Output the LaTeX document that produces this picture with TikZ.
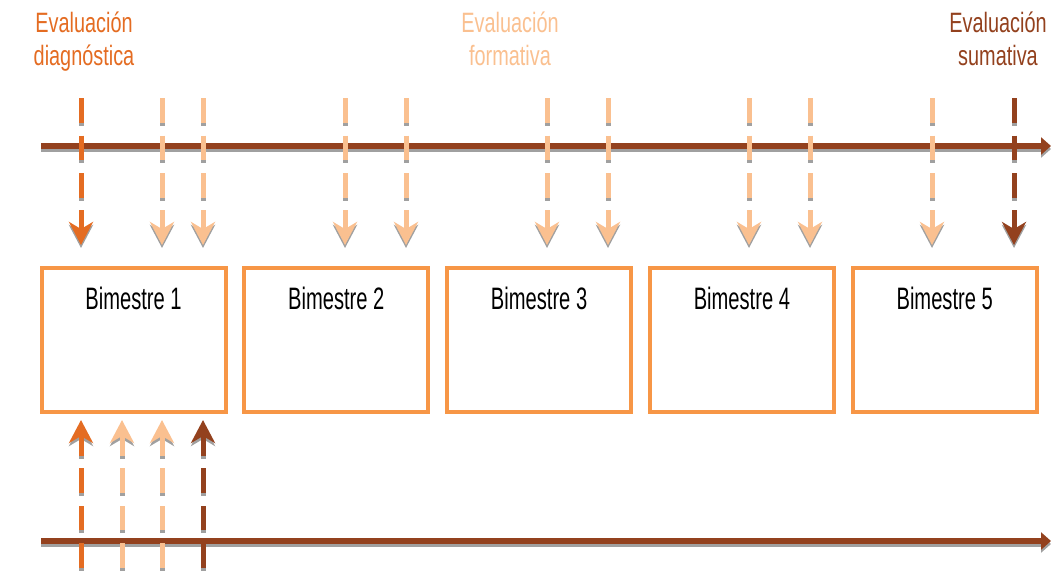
\documentclass[tikz,border=0pt]{standalone}
\usepackage{fontspec}
\usetikzlibrary{arrows.meta}
\newfontfamily\boxfont[FakeStretch=0.65]{Liberation Sans}
\newfontfamily\titlefont[FakeStretch=0.71]{Liberation Sans}
\definecolor{brownc}{HTML}{93411E}
\definecolor{darkor}{HTML}{E46C22}
\definecolor{lightor}{HTML}{FAC090}
\definecolor{boxor}{HTML}{F79646}
\definecolor{shadowgray}{HTML}{A0A0A0}
\begin{document}
\begin{tikzpicture}[x=1pt,y=-1pt,
  shadow/.style={draw=shadowgray, transform canvas={yshift=-3pt}},
  axisline/.style={line width=6pt, -{Triangle[length=10pt,width=17pt]}},
  dashline/.style={line width=5pt, dash pattern=on 24.5pt off 13pt},
  shortarrow/.style={line width=5pt, -{Stealth[length=23pt,width=24pt,inset=7pt]}},
  bimbox/.style={draw=boxor, line width=4pt, minimum width=184pt, minimum height=144pt, inner sep=0pt},
  bimtext/.style={anchor=base, inner sep=0pt, text=black, font=\boxfont\fontsize{31}{37}\selectfont},
  titletext/.style={anchor=base, inner sep=0pt, font=\titlefont\fontsize{28}{33}\selectfont}
]
\useasboundingbox (0,0) rectangle (1051,574);

% titles
\node[titletext, text=darkor] (d1) at (84,32) {Evaluación};
\node[titletext, text=darkor] (d2) at (84,65) {diagnóstica};
\node[titletext, text=lightor] (f1) at (510,32) {Evaluación};
\node[titletext, text=lightor] (f2) at (510,65) {formativa};
\node[titletext, text=brownc] (s1) at (998,32) {Evaluación};
\node[titletext, text=brownc] (s2) at (998,65) {sumativa};

% axes
\coordinate (ta0) at (41,146);
\coordinate (ta1) at (1051,146);
\coordinate (ba0) at (41,541);
\coordinate (ba1) at (1051,541);
\draw[axisline, shadow] (ta0) -- (ta1);
\draw[axisline, draw=brownc] (ta0) -- (ta1);
\draw[axisline, shadow] (ba0) -- (ba1);
\draw[axisline, draw=brownc] (ba0) -- (ba1);

% boxes
\foreach \i in {1,...,5} {
  \pgfmathsetmacro{\cx}{133.5+202.8*(\i-1)}
  \node[bimbox] (b\i) at (\cx,340) {};
  \node[bimtext] (t\i) at (\cx,309) {Bimestre \i};
}

% top dashed arrows
\foreach \x/\c [count=\k] in {81/darkor,162/lightor,203/lightor,345/lightor,406/lightor,547/lightor,608/lightor,749/lightor,810/lightor,932/lightor,1014/brownc} {
  \coordinate (u\k a) at (\x,98);
  \coordinate (u\k b) at (\x,197.5);
  \coordinate (u\k c) at (\x,210);
  \coordinate (u\k d) at (\x,245);
  \draw[dashline, shadow] (u\k a) -- (u\k b);
  \draw[dashline, draw=\c] (u\k a) -- (u\k b);
  \draw[shortarrow, shadow] (u\k c) -- (u\k d);
  \draw[shortarrow, draw=\c] (u\k c) -- (u\k d);
}

% bottom dashed arrows
\foreach \x/\c [count=\k] in {81/darkor,122/lightor,162/lightor,203/brownc} {
  \coordinate (l\k a) at (\x,567.5);
  \coordinate (l\k b) at (\x,468);
  \coordinate (l\k c) at (\x,456);
  \coordinate (l\k d) at (\x,420);
  \draw[dashline, shadow] (l\k a) -- (l\k b);
  \draw[dashline, draw=\c] (l\k a) -- (l\k b);
  \draw[shortarrow, shadow] (l\k c) -- (l\k d);
  \draw[shortarrow, draw=\c] (l\k c) -- (l\k d);
}
\end{tikzpicture}
\end{document}
